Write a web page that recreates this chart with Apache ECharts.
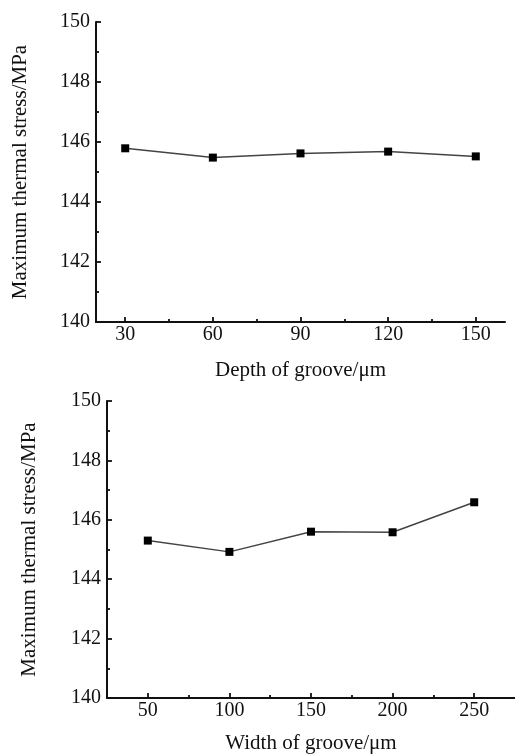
<!DOCTYPE html>
<html>
<head>
<meta charset="utf-8">
<script src="https://cdn.jsdelivr.net/npm/echarts@6/dist/echarts.min.js"></script>
<style>
  html, body { margin: 0; padding: 0; background: #fff; }
  #main { width: 515px; height: 755px; }
</style>
</head>
<body>
<div id="main"></div>
<script>
// top panel: depth of groove
var depthValues = [30, 60, 90, 120, 150];
var depthStress = [145.79, 145.48, 145.62, 145.68, 145.52];
var depthMajor = [30, 60, 90, 120, 150];
var depthMinor = [45, 75, 105, 135];

// bottom panel: width of groove
var widthValues = [50, 100, 150, 200, 250];
var widthStress = [145.30, 144.92, 145.60, 145.58, 146.59];
var widthMajor = [50, 100, 150, 200, 250];
var widthMinor = [75, 125, 175, 225];

var yName = 'Maximum thermal stress/MPa';
var font = "'Liberation Serif', 'Times New Roman', serif";

var chart = echarts.init(document.getElementById('main'));

function pairs(xs, ys) {
    var res = [];
    for (var i = 0; i < xs.length; i++) res.push([xs[i], ys[i]]);
    return res;
}

function majorX(grid, min, max, ticks, name, gap) {
    return {
        type: 'value', gridIndex: grid, min: min, max: max,
        name: name, nameLocation: 'middle', nameGap: gap,
        nameTextStyle: { fontFamily: font, fontSize: 21, color: '#111' },
        axisLine: { lineStyle: { color: '#111', width: 2 } },
        axisTick: { inside: true, length: 5, customValues: ticks, lineStyle: { color: '#111', width: 1.8 } },
        axisLabel: { customValues: ticks, margin: 3, fontFamily: font, fontSize: 20, color: '#111' },
        splitLine: { show: false }
    };
}

function minorX(grid, min, max, ticks) {
    return {
        type: 'value', gridIndex: grid, min: min, max: max, position: 'bottom',
        axisLine: { show: false },
        axisTick: { inside: true, length: 3, customValues: ticks, lineStyle: { color: '#111', width: 1.8 } },
        axisLabel: { show: false },
        splitLine: { show: false }
    };
}

function stressY(grid, gap) {
    return {
        type: 'value', gridIndex: grid, min: 140, max: 150, interval: 2,
        name: yName, nameLocation: 'middle', nameGap: gap,
        nameTextStyle: { fontFamily: font, fontSize: 21, color: '#111' },
        axisLine: { show: true, lineStyle: { color: '#111', width: 2 } },
        axisTick: { show: true, inside: true, length: 5, lineStyle: { color: '#111', width: 1.8 } },
        minorTick: { show: true, splitNumber: 2, length: 3, lineStyle: { color: '#111', width: 1.8 } },
        axisLabel: { margin: 6, fontFamily: font, fontSize: 20, color: '#111' },
        splitLine: { show: false }
    };
}

function lineSeries(xi, yi, data) {
    return {
        type: 'line', xAxisIndex: xi, yAxisIndex: yi, data: data,
        symbol: 'rect', symbolSize: 8,
        itemStyle: { color: '#000' },
        lineStyle: { color: '#444', width: 1.5 },
        animation: false
    };
}

var option = {
    backgroundColor: '#fff',
    grid: [
        { left: 96, top: 22, width: 409, height: 300 },
        { left: 107, top: 401, width: 408, height: 299 }
    ],
    xAxis: [
        majorX(0, 20, 160, depthMajor, 'Depth of groove/μm', 38),
        minorX(0, 20, 160, depthMinor),
        majorX(1, 25, 275, widthMajor, 'Width of groove/μm', 35),
        minorX(1, 25, 275, widthMinor)
    ],
    yAxis: [
        stressY(0, 65),
        stressY(1, 67)
    ],
    series: [
        lineSeries(0, 0, pairs(depthValues, depthStress)),
        lineSeries(2, 1, pairs(widthValues, widthStress))
    ]
};

chart.setOption(option);
</script>
</body>
</html>
